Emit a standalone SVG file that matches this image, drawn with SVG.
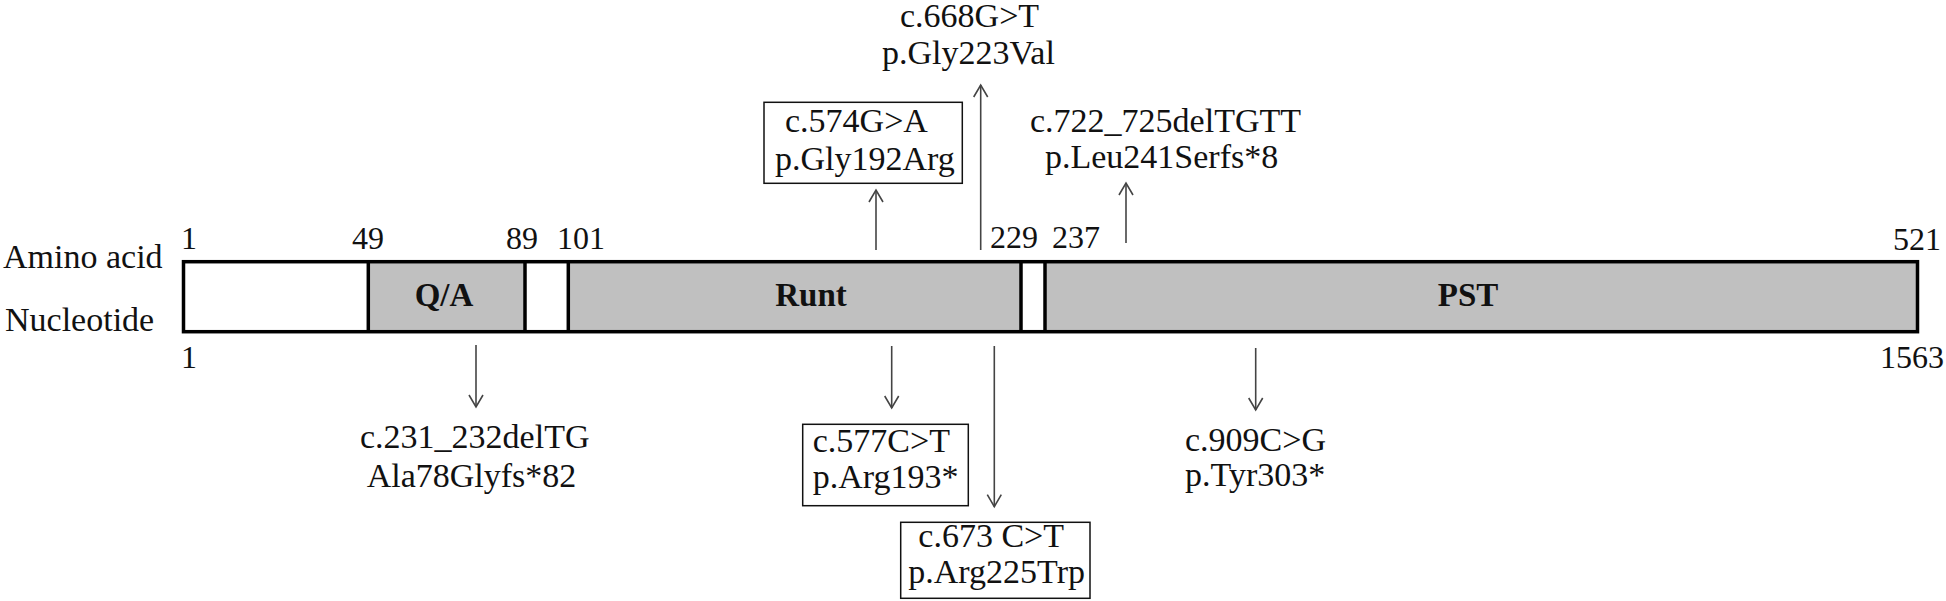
<svg xmlns="http://www.w3.org/2000/svg" width="1946" height="601" viewBox="0 0 1946 601">
<style>
text{font-family:"Liberation Serif","Times New Roman",serif;fill:#111}
.lbl{font-size:34px}
.num{font-size:32px}
.dom{font-size:33px;font-weight:bold;text-anchor:middle}
.seg-w{fill:#fff;stroke:none}
.seg-g{fill:#c0c0c0;stroke:none}
.div{stroke:#000;stroke-width:3.5}
.frame{fill:none;stroke:#000;stroke-width:3.5}
.box{fill:#fff;stroke:#111;stroke-width:1.5}
.arr{stroke:#444;stroke-width:1.6;fill:none;marker-end:url(#head)}
</style>
<defs>
<marker id="head" markerUnits="userSpaceOnUse" markerWidth="16" markerHeight="18" refX="12" refY="8" orient="auto" overflow="visible">
<path d="M0,1 L12,8 L0,15" fill="none" stroke="#444" stroke-width="1.6"/>
</marker>
</defs>
<rect width="1946" height="601" fill="#fff"/>
<g id="axis-labels">
<text class="lbl" x="3" y="268">Amino acid</text>
<text class="lbl" x="5" y="331">Nucleotide</text>
</g>
<g id="protein-bar">
<rect class="seg-w" x="183.5" y="261.7" width="185" height="70"/>
<rect class="seg-g" x="368.3" y="261.7" width="156.7" height="70"/>
<rect class="seg-w" x="525" y="261.7" width="43.3" height="70"/>
<rect class="seg-g" x="568.3" y="261.7" width="452.7" height="70"/>
<rect class="seg-w" x="1021" y="261.7" width="24" height="70"/>
<rect class="seg-g" x="1045" y="261.7" width="872.5" height="70"/>
<line class="div" x1="368.3" y1="261.7" x2="368.3" y2="331.7"/>
<line class="div" x1="525" y1="261.7" x2="525" y2="331.7"/>
<line class="div" x1="568.3" y1="261.7" x2="568.3" y2="331.7"/>
<line class="div" x1="1021" y1="261.7" x2="1021" y2="331.7"/>
<line class="div" x1="1045" y1="261.7" x2="1045" y2="331.7"/>
<rect class="frame" x="183.5" y="261.7" width="1734" height="70"/>
</g>
<g id="domain-QA"><text class="dom" x="444" y="306">Q/A</text></g>
<g id="domain-Runt"><text class="dom" x="811" y="306">Runt</text></g>
<g id="domain-PST"><text class="dom" x="1468" y="306">PST</text></g>
<g id="positions">
<text class="num" x="181" y="249">1</text>
<text class="num" x="352" y="249">49</text>
<text class="num" x="506" y="249">89</text>
<text class="num" x="557" y="249">101</text>
<text class="num" x="990" y="248">229</text>
<text class="num" x="1052" y="248">237</text>
<text class="num" x="1893" y="250">521</text>
<text class="num" x="181" y="368">1</text>
<text class="num" x="1880" y="368">1563</text>
</g>
<g id="connectors">
<line class="arr" x1="876" y1="250" x2="876" y2="190"/>
<line class="arr" x1="980.7" y1="250" x2="980.7" y2="85"/>
<line class="arr" x1="1126" y1="243" x2="1126" y2="183"/>
<line class="arr" x1="476" y1="345" x2="476" y2="407"/>
<line class="arr" x1="891.7" y1="346" x2="891.7" y2="408"/>
<line class="arr" x1="994.3" y1="346" x2="994.3" y2="506.7"/>
<line class="arr" x1="1255.7" y1="348" x2="1255.7" y2="410"/>
</g>
<g id="mut-c574">
<rect class="box" x="764" y="102.3" width="198.3" height="81"/>
<text class="lbl" x="785" y="131.7">c.574G&gt;A</text>
<text class="lbl" x="775" y="170">p.Gly192Arg</text>
</g>
<g id="mut-c668">
<text class="lbl" x="900" y="27">c.668G&gt;T</text>
<text class="lbl" x="882" y="64">p.Gly223Val</text>
</g>
<g id="mut-c722">
<text class="lbl" x="1030" y="131.7">c.722_725delTGTT</text>
<text class="lbl" x="1045" y="168">p.Leu241Serfs*8</text>
</g>
<g id="mut-c231">
<text class="lbl" x="360" y="448.3">c.231_232delTG</text>
<text class="lbl" x="366.7" y="486.7">Ala78Glyfs*82</text>
</g>
<g id="mut-c577">
<rect class="box" x="802.7" y="424.3" width="165.6" height="81.4"/>
<text class="lbl" x="812.7" y="451.7">c.577C&gt;T</text>
<text class="lbl" x="812.7" y="488.3">p.Arg193*</text>
</g>
<g id="mut-c673">
<rect class="box" x="900.7" y="522.3" width="189.3" height="76"/>
<text class="lbl" x="918.3" y="546.7">c.673 C&gt;T</text>
<text class="lbl" x="908.3" y="583.3">p.Arg225Trp</text>
</g>
<g id="mut-c909">
<text class="lbl" x="1185" y="450.7">c.909C&gt;G</text>
<text class="lbl" x="1185" y="486">p.Tyr303*</text>
</g>
</svg>
